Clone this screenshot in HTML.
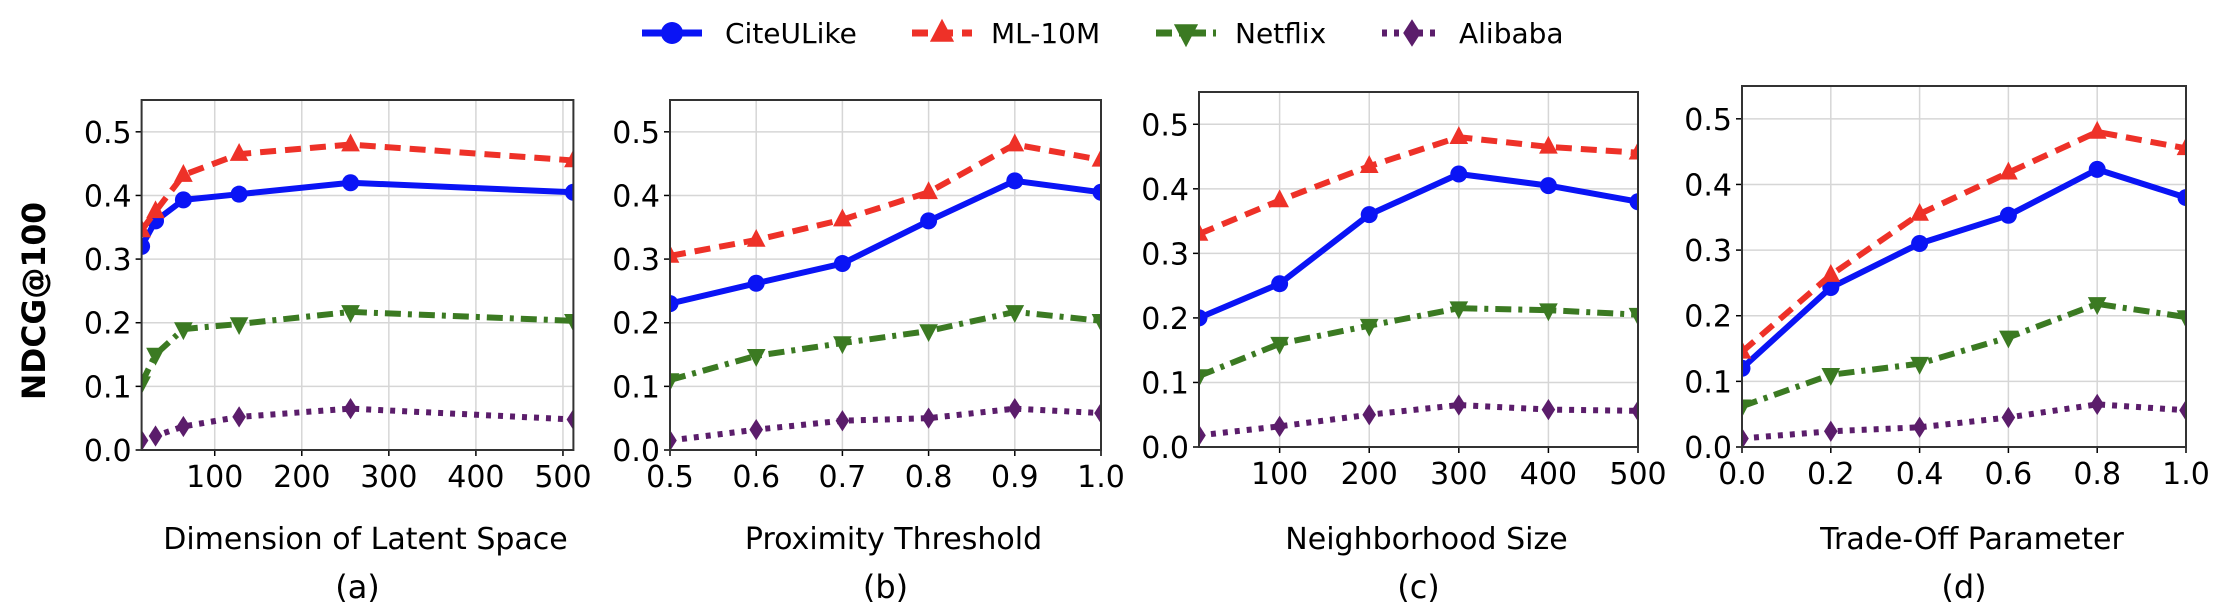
<!DOCTYPE html>
<html><head><meta charset="utf-8"><style>
html,body{margin:0;padding:0;background:#fff}
svg{display:block}
text{font-family:"DejaVu Sans","Liberation Sans",sans-serif;fill:#000}
</style></head><body>
<svg id="chart" width="2220" height="614" viewBox="0 0 2220 614" xmlns="http://www.w3.org/2000/svg">
<g id="legend"></g>
<text transform="translate(45,301) rotate(-90)" text-anchor="middle" font-size="32" font-weight="bold" textLength="198" lengthAdjust="spacingAndGlyphs">NDCG@100</text>
<g id="panels"></g>
</svg>
<script>
const seriesNames = ["CiteULike","ML-10M","Netflix","Alibaba"];
const xA = [16,32,64,128,256,512];
const citeA = [0.32,0.36,0.393,0.402,0.42,0.405];
const mlA = [0.345,0.375,0.432,0.465,0.48,0.455];
const netA = [0.105,0.15,0.19,0.198,0.217,0.203];
const aliA = [0.015,0.022,0.037,0.052,0.065,0.048];
const xB = [0.5,0.6,0.7,0.8,0.9,1.0];
const citeB = [0.23,0.262,0.293,0.36,0.423,0.405];
const mlB = [0.305,0.33,0.362,0.405,0.48,0.456];
const netB = [0.11,0.148,0.168,0.187,0.217,0.203];
const aliB = [0.015,0.032,0.046,0.05,0.065,0.058];
const xC = [10,100,200,300,400,500];
const citeC = [0.2,0.253,0.36,0.423,0.405,0.38];
const mlC = [0.33,0.382,0.435,0.48,0.465,0.456];
const netC = [0.11,0.16,0.188,0.215,0.212,0.205];
const aliC = [0.018,0.032,0.05,0.065,0.058,0.056];
const xD = [0,0.2,0.4,0.6,0.8,1.0];
const citeD = [0.12,0.243,0.31,0.353,0.423,0.38];
const mlD = [0.145,0.262,0.355,0.418,0.48,0.455];
const netD = [0.062,0.11,0.127,0.167,0.218,0.198];
const aliD = [0.013,0.024,0.03,0.045,0.065,0.056];
const yTicks = [0,0.1,0.2,0.3,0.4,0.5];
const yTickLabels = ["0.0","0.1","0.2","0.3","0.4","0.5"];
const xTicksA = [100,200,300,400,500];
const xTicksB = [0.5,0.6,0.7,0.8,0.9,1.0];
const xTicksC = [100,200,300,400,500];
const xTicksD = [0,0.2,0.4,0.6,0.8,1.0];
const xTickLabelsA = ["100","200","300","400","500"];
const xTickLabelsB = ["0.5","0.6","0.7","0.8","0.9","1.0"];
const xTickLabelsC = ["100","200","300","400","500"];
const xTickLabelsD = ["0.0","0.2","0.4","0.6","0.8","1.0"];
const xTitles = ["Dimension of Latent Space","Proximity Threshold","Neighborhood Size","Trade-Off Parameter"];
const panelTags = ["(a)","(b)","(c)","(d)"];

const NS="http://www.w3.org/2000/svg";
const styles=[
 {color:"#0a14f5",dash:"",marker:"circle"},
 {color:"#ee3128",dash:"16,9",marker:"tri"},
 {color:"#3b7a22",dash:"16,7,4,7",marker:"tridown"},
 {color:"#5b1d6b",dash:"5,7",marker:"diamond"}
];
function el(tag,attrs,parent){const e=document.createElementNS(NS,tag);for(const k in attrs)e.setAttribute(k,attrs[k]);if(parent)parent.appendChild(e);return e;}
function marker(g,type,cx,cy,color,s){
 let e;
 if(type==="circle") e=el("circle",{cx:cx,cy:cy,r:s},g);
 else if(type==="tri") e=el("polygon",{points:`${cx},${cy-s*1.3} ${cx-s*1.1},${cy+s*0.8} ${cx+s*1.1},${cy+s*0.8}`},g);
 else if(type==="tridown") e=el("polygon",{points:`${cx},${cy+s*1.3} ${cx-s*1.1},${cy-s*0.8} ${cx+s*1.1},${cy-s*0.8}`},g);
 else e=el("polygon",{points:`${cx},${cy-s*1.25} ${cx+s*0.8},${cy} ${cx},${cy+s*1.25} ${cx-s*0.8},${cy}`},g);
 e.setAttribute("fill",color);
 return e;
}
const panelsG=document.getElementById("panels");
const panels=[
 {L:141.6,R:573.4,T:100,B:450,xmin:16,xmax:512,xs:xA,ys:[citeA,mlA,netA,aliA],ticks:xTicksA,tl:xTickLabelsA},
 {L:670,R:1101,T:100,B:450,xmin:0.5,xmax:1.0,xs:xB,ys:[citeB,mlB,netB,aliB],ticks:xTicksB,tl:xTickLabelsB},
 {L:1199,R:1638,T:92,B:447,xmin:10,xmax:500,xs:xC,ys:[citeC,mlC,netC,aliC],ticks:xTicksC,tl:xTickLabelsC},
 {L:1742,R:2186,T:86,B:447,xmin:0,xmax:1.0,xs:xD,ys:[citeD,mlD,netD,aliD],ticks:xTicksD,tl:xTickLabelsD}
];
const YMAX=0.55;
panels.forEach((p,i)=>{
 const g=el("g",{},panelsG);
 
 
 const sx=v=>p.L+(v-p.xmin)/(p.xmax-p.xmin)*(p.R-p.L);
 const sy=v=>p.B-v/YMAX*(p.B-p.T);
 const cp=el("clipPath",{id:"clip"+i},g);
 el("rect",{x:p.L,y:p.T,width:p.R-p.L,height:p.B-p.T},cp);
 yTicks.forEach((t,k)=>{
  const gl=el("line",{x1:p.L,x2:p.R,y1:sy(t),y2:sy(t),stroke:"#d6d6d6","stroke-width":1.5},g);
  
  
  el("line",{x1:p.L-6,x2:p.L,y1:sy(t),y2:sy(t),stroke:"#000","stroke-width":1.5},g);
  const tx=el("text",{x:p.L-10,y:sy(t)+11,"text-anchor":"end","font-size":30},g);
  tx.textContent=yTickLabels[k];
  
  
 });
 p.ticks.forEach((t,k)=>{
  const gl=el("line",{x1:sx(t),x2:sx(t),y1:p.T,y2:p.B,stroke:"#d6d6d6","stroke-width":1.5},g);
  
  
  el("line",{x1:sx(t),x2:sx(t),y1:p.B,y2:p.B+6,stroke:"#000","stroke-width":1.5},g);
  const tx=el("text",{x:sx(t),y:p.B+37,"text-anchor":"middle","font-size":30},g);
  tx.textContent=p.tl[k];
  
  
 });
 const sg=el("g",{"clip-path":`url(#clip${i})`},g);
 p.ys.forEach((vals,s)=>{
  const st=styles[s];
  const pts=vals.map((v,k)=>sx(p.xs[k])+","+sy(v)).join(" ");
  const line=el("polyline",{points:pts,fill:"none",stroke:st.color,"stroke-width":6,"stroke-dasharray":st.dash,"stroke-linejoin":"round"},sg);
  
  
  vals.forEach((v,k)=>{
   const m=marker(sg,st.marker,sx(p.xs[k]),sy(v),st.color,8.5);
   
   
  });
 });
 el("rect",{x:p.L,y:p.T,width:p.R-p.L,height:p.B-p.T,fill:"none",stroke:"#333","stroke-width":2},g);
 const cx=(p.L+p.R)/2;
 const xt=el("text",{x:cx+8,y:549,"text-anchor":"middle","font-size":30,"font-family":"Liberation Sans, sans-serif"},g);
 xt.textContent=xTitles[i];
 
 
 const pt=el("text",{x:cx,y:598,"text-anchor":"middle","font-size":32,"font-family":"Liberation Sans, sans-serif"},g);
 pt.textContent=panelTags[i];
 
 
});
const lg=document.getElementById("legend");
const legX=[642,912,1156,1382];
const legT=[725,991,1235,1459];
seriesNames.forEach((n,s)=>{
 const st=styles[s];
 const g=el("g",{},lg);
 
 
 el("line",{x1:legX[s],x2:legX[s]+60,y1:33,y2:33,stroke:st.color,"stroke-width":7,"stroke-dasharray":st.dash},g);
 marker(g,st.marker,legX[s]+30,33,st.color,11);
 const t=el("text",{x:legT[s],y:43,"font-size":28},g);
 t.textContent=n;
});
</script>
</body></html>
